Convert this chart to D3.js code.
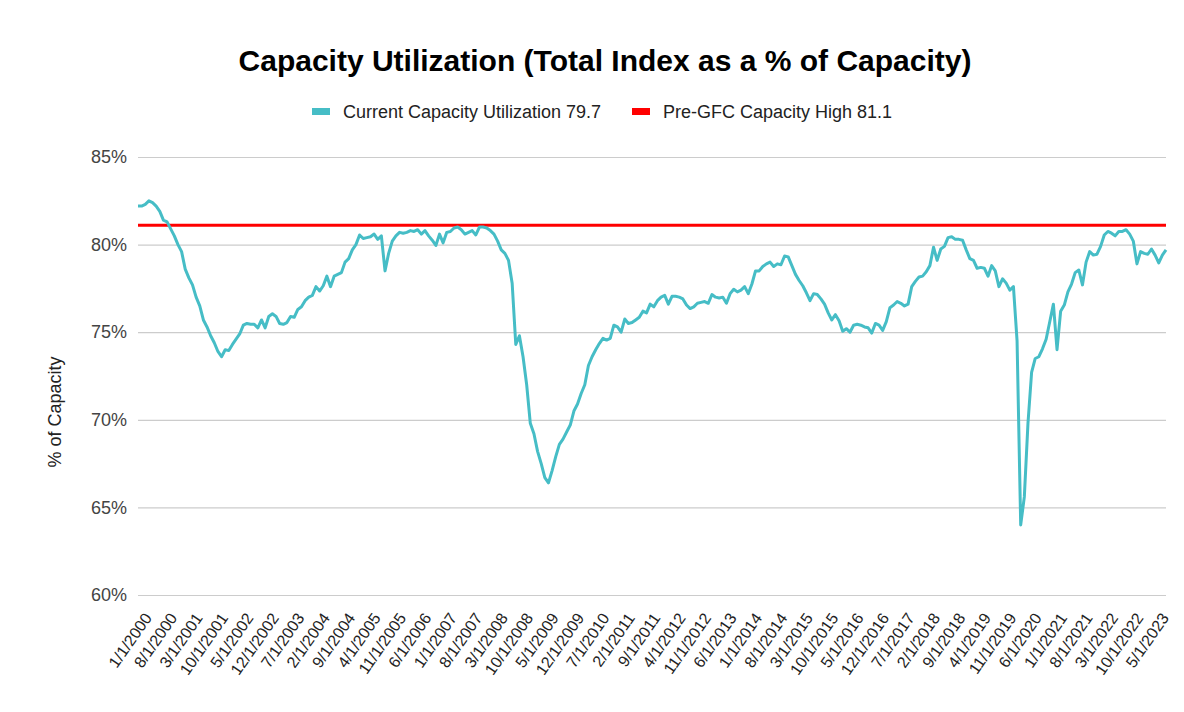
<!DOCTYPE html>
<html>
<head>
<meta charset="utf-8">
<script src="https://cdn.jsdelivr.net/npm/d3@7"></script>
<style>
  body { margin: 0; background: #ffffff; }
  svg { display: block; font-family: "Liberation Sans", Arial, sans-serif; }
</style>
</head>
<body>
<div id="vis-holder"></div>
<script>
// Capacity utilization, monthly, Jan 2000 - Aug 2023
const startMonth = new Date(2000, 0, 1);

const values2000s = [
    82.2, 82.2, 82.3, 82.5, 82.4, 82.2, 81.9, 81.4, 81.3, 80.9, 80.5, 80.0,   // 2000
    79.6, 78.6, 78.1, 77.7, 77.0, 76.5, 75.7, 75.3, 74.8, 74.4, 73.9, 73.6,   // 2001
    74.0, 73.95, 74.3, 74.6, 74.9, 75.4, 75.5, 75.45, 75.45, 75.25, 75.7, 75.25, // 2002
    75.9, 76.05, 75.9, 75.5, 75.45, 75.55, 75.9, 75.85, 76.3, 76.45, 76.8, 77.0, // 2003
    77.1, 77.6, 77.35, 77.65, 78.2, 77.6, 78.2, 78.3, 78.4, 79.0, 79.2, 79.7,  // 2004
    80.0, 80.55, 80.35, 80.4, 80.45, 80.6, 80.3, 80.5, 78.5, 79.5, 80.2, 80.5, // 2005
    80.7, 80.65, 80.7, 80.8, 80.75, 80.85, 80.6, 80.8, 80.5, 80.25, 79.95, 80.6, // 2006
    80.1, 80.7, 80.75, 80.95, 81.0, 80.85, 80.6, 80.7, 80.8, 80.55, 81.0, 81.0,  // 2007
    80.95, 80.8, 80.6, 80.2, 79.7, 79.5, 79.1, 77.8, 74.3, 74.8, 73.6, 72.0,   // 2008
    69.8, 69.2, 68.2, 67.5, 66.7, 66.4, 67.1, 67.9, 68.6, 68.9, 69.3, 69.7     // 2009
];
const values2010s = [
    70.5, 70.9, 71.5, 72.0, 73.1, 73.6, 74.0, 74.35, 74.65, 74.55, 74.65, 75.4, // 2010
    75.3, 75.0, 75.75, 75.5, 75.55, 75.7, 75.85, 76.2, 76.1, 76.6, 76.45, 76.8,  // 2011
    77.0, 77.1, 76.6, 77.05, 77.05, 77.0, 76.9, 76.55, 76.35, 76.45, 76.65, 76.7, // 2012
    76.75, 76.65, 77.15, 77.0, 76.95, 77.0, 76.65, 77.2, 77.45, 77.3, 77.4, 77.6, // 2013
    77.2, 77.75, 78.5, 78.5, 78.75, 78.9, 79.0, 78.75, 78.9, 78.85, 79.35, 79.3, // 2014
    78.8, 78.3, 77.95, 77.65, 77.25, 76.8, 77.2, 77.15, 76.9, 76.6, 76.1, 75.7,  // 2015
    76.0, 75.65, 75.05, 75.2, 75.0, 75.4, 75.45, 75.4, 75.3, 75.25, 74.95, 75.5, // 2016
    75.4, 75.1, 75.6, 76.4, 76.55, 76.75, 76.65, 76.5, 76.6, 77.6, 77.9, 78.15,  // 2017
    78.2, 78.45, 78.8, 79.85, 79.1, 79.75, 79.9, 80.4, 80.45, 80.3, 80.3, 80.25, // 2018
    79.7, 79.2, 79.1, 78.65, 78.7, 78.65, 78.2, 78.8, 78.5, 77.6, 78.05, 77.8   // 2019
];
const values2020s = [
    77.4, 77.6, 74.5, 64.0, 65.6, 69.8, 72.7, 73.5, 73.6, 74.05, 74.6, 75.6,   // 2020
    76.6, 74.0, 76.2, 76.55, 77.3, 77.75, 78.4, 78.55, 77.7, 79.0, 79.6, 79.4,  // 2021
    79.45, 79.9, 80.55, 80.75, 80.65, 80.5, 80.75, 80.75, 80.85, 80.6, 80.2, 78.9, // 2022
    79.6, 79.5, 79.45, 79.75, 79.4, 78.95, 79.4, 79.7                          // 2023
];
const utilization = values2000s.concat(values2010s, values2020s);
const preGfcHigh = 81.1;

const tickLabels = [
    "1/1/2000", "8/1/2000", "3/1/2001", "10/1/2001", "5/1/2002", "12/1/2002", "7/1/2003",
    "2/1/2004", "9/1/2004", "4/1/2005", "11/1/2005", "6/1/2006", "1/1/2007", "8/1/2007",
    "3/1/2008", "10/1/2008", "5/1/2009", "12/1/2009", "7/1/2010", "2/1/2011", "9/1/2011",
    "4/1/2012", "11/1/2012", "6/1/2013", "1/1/2014", "8/1/2014", "3/1/2015", "10/1/2015",
    "5/1/2016", "12/1/2016", "7/1/2017", "2/1/2018", "9/1/2018", "4/1/2019", "11/1/2019",
    "6/1/2020", "1/1/2021", "8/1/2021", "3/1/2022", "10/1/2022", "5/1/2023"
];
const yTicks = [60, 65, 70, 75, 80, 85];

const seriesNames = ["Current Capacity Utilization 79.7", "Pre-GFC Capacity High 81.1"];
const seriesColors = ["#46bdc6", "#ff0000"];

// categories: one label per month, same format as the sheet
const fmt = d => (d.getMonth() + 1) + "/1/" + d.getFullYear();
const categories = utilization.map((v, i) => fmt(d3.timeMonth.offset(startMonth, i)));
const data = categories.map((c, i) => ({ cat: c, value: utilization[i] }));

const width = 1184, height = 712;
const margin = { top: 157, right: 18, bottom: 117, left: 138 };

const svg = d3.select("#vis-holder")
    .append("svg")
    .attr("width", width)
    .attr("height", height);

svg.append("rect")
    .attr("width", width)
    .attr("height", height)
    .attr("fill", "#ffffff");

const x = d3.scalePoint()
    .domain(categories)
    .range([margin.left, width - margin.right]);

const y = d3.scaleLinear()
    .domain([60, 85])
    .range([height - margin.bottom, margin.top]);

// title
svg.append("text")
    .attr("x", 605)
    .attr("y", 71)
    .attr("text-anchor", "middle")
    .style("font-size", "30px")
    .style("font-weight", "bold")
    .style("fill", "#000")
    .text("Capacity Utilization (Total Index as a % of Capacity)");

// legend
const legend = svg.append("g").attr("class", "legend");
const legendX = [312, 632];
seriesNames.forEach((name, i) => {
    legend.append("rect")
        .attr("x", legendX[i])
        .attr("y", 108)
        .attr("width", 18)
        .attr("height", 7)
        .attr("fill", seriesColors[i]);
    legend.append("text")
        .attr("x", legendX[i] + 31)
        .attr("y", 118)
        .style("font-size", "18px")
        .style("fill", "#222")
        .text(name);
});

// gridlines + y labels
const yAxis = svg.append("g")
    .attr("transform", "translate(" + margin.left + ",0)")
    .call(d3.axisLeft(y)
        .tickValues(yTicks)
        .tickSize(-(width - margin.left - margin.right))
        .tickPadding(11)
        .tickFormat(d => d + "%"));
yAxis.select(".domain").remove();
yAxis.selectAll("line")
    .attr("stroke", "#cccccc")
    .attr("stroke-width", 1.2);
yAxis.selectAll("text")
    .style("font-size", "18px")
    .style("fill", "#444");

// y axis title
svg.append("text")
    .attr("transform", "translate(61," + 412 + ") rotate(-90)")
    .attr("text-anchor", "middle")
    .style("font-size", "18px")
    .style("fill", "#222")
    .text("% of Capacity");

// x labels
const xAxis = svg.append("g")
    .attr("transform", "translate(0," + (height - margin.bottom) + ")")
    .call(d3.axisBottom(x)
        .tickValues(tickLabels)
        .tickSize(0)
        .tickPadding(0));
xAxis.select(".domain").remove();
xAxis.selectAll("text")
    .attr("text-anchor", "end")
    .attr("dy", 0)
    .attr("transform", "translate(14,23) rotate(-55)")
    .style("font-size", "16px")
    .style("fill", "#222");

// pre-GFC high
svg.append("line")
    .attr("x1", margin.left)
    .attr("x2", width - margin.right)
    .attr("y1", y(preGfcHigh))
    .attr("y2", y(preGfcHigh))
    .attr("stroke", seriesColors[1])
    .attr("stroke-width", 3);

// utilization line
const line = d3.line()
    .x(d => x(d.cat))
    .y(d => y(d.value));

svg.append("path")
    .datum(data)
    .attr("fill", "none")
    .attr("stroke", seriesColors[0])
    .attr("stroke-width", 3)
    .attr("stroke-linejoin", "round")
    .attr("d", line);
</script>
</body>
</html>
